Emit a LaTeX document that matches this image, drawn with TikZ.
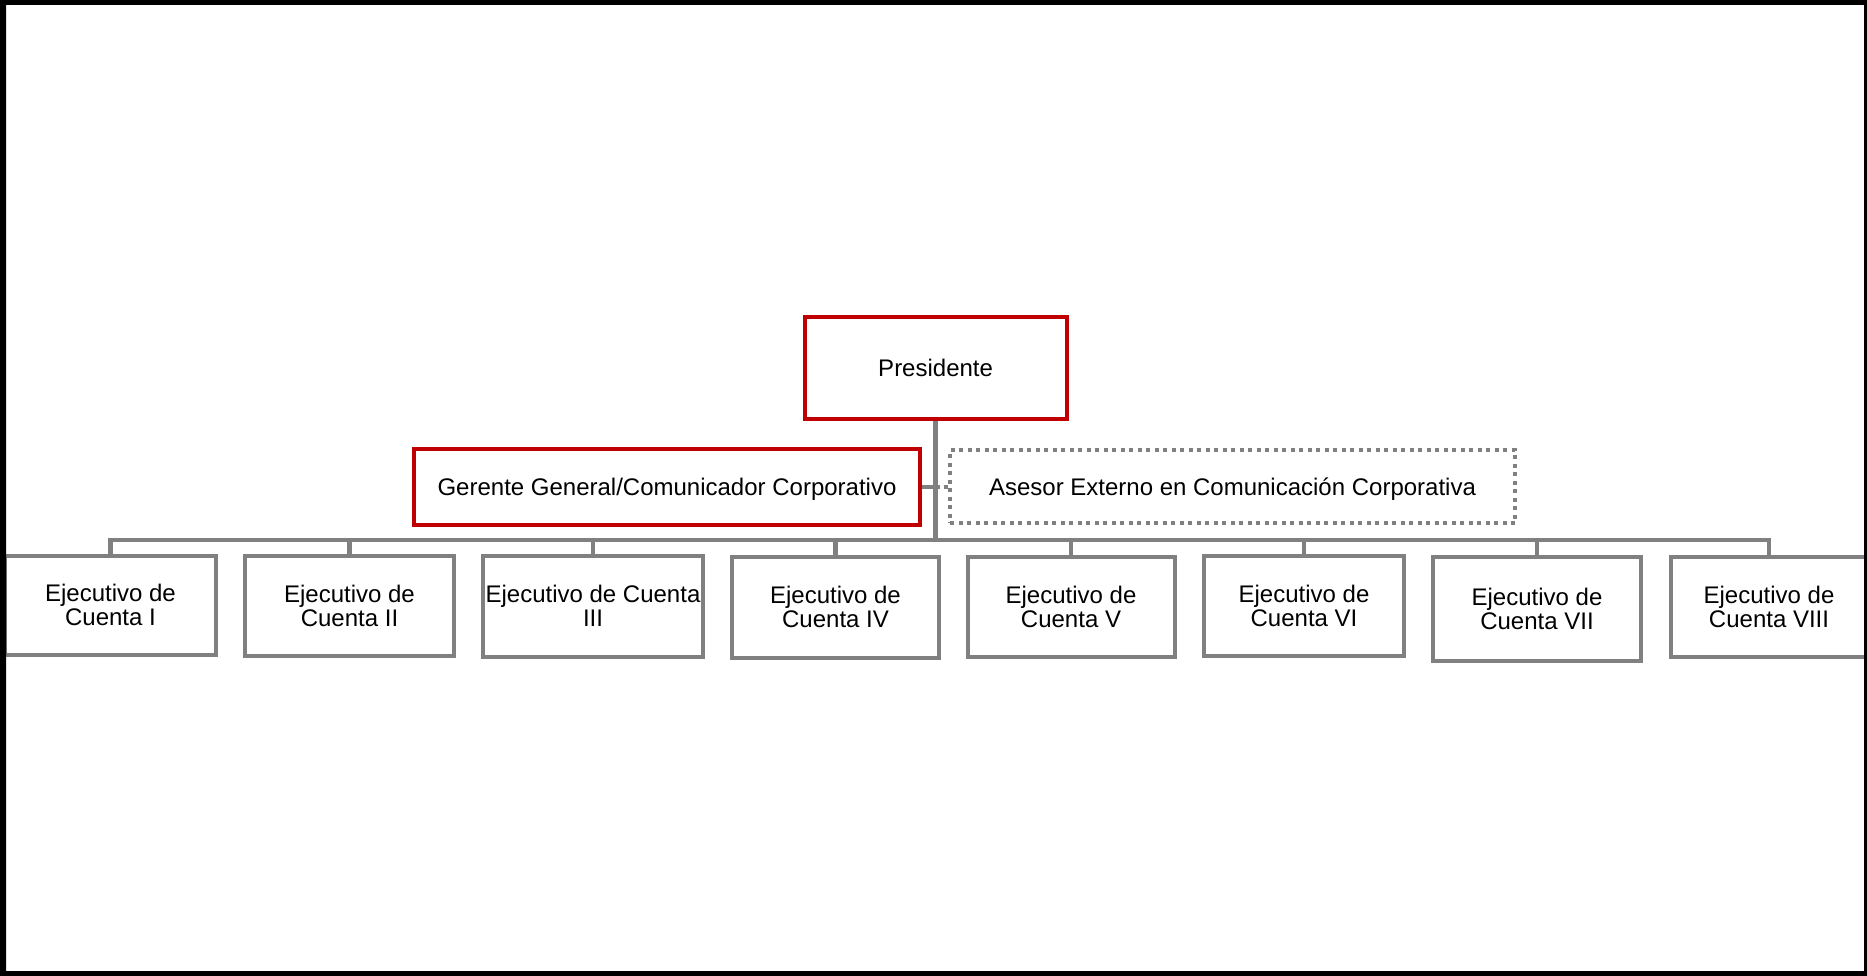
\documentclass[tikz,border=0pt]{standalone}
\usepackage{fontspec}
\setmainfont{Liberation Sans}
\definecolor{boxred}{HTML}{C00000}
\definecolor{boxgray}{HTML}{808080}
\begin{document}
\begin{tikzpicture}[x=1pt,y=-1pt,
  redbox/.style={draw=boxred, line width=4pt, fill=white, inner sep=0pt, align=center, text depth=0pt},
  graybox/.style={draw=boxgray, line width=4pt, fill=white, inner sep=0pt, align=center},
  dotbox/.style={draw=boxgray, line width=4pt, dash pattern=on 4pt off 4.5pt, fill=white, inner sep=0pt, align=center, text depth=0pt},
  conn/.style={draw=boxgray, line width=4.5pt},
  dotconn/.style={draw=boxgray, line width=4pt, dash pattern=on 4pt off 4.5pt},
  every node/.style={font=\fontsize{24}{24}\selectfont}]
\useasboundingbox (0,0) rectangle (1867,976);
\begin{scope}
\clip (0,0) rectangle (1867,976);
\fill[white] (0,0) rectangle (1867,976);
% top levels
\node[redbox, minimum width=262pt, minimum height=102pt] (pres) at (935.6,368) {Presidente};
\node[redbox, minimum width=506pt, minimum height=76pt] (ger) at (667,487) {Gerente General/Comunicador Corporativo};
\node[dotbox, minimum width=565pt, minimum height=73pt] (ase) at (1232.5,486.5) {Asesor Externo en Comunicación Corporativa};
% children
\node[graybox, minimum width=211pt, minimum height=99pt] (c1) at (110.5,605) {Ejecutivo de\\Cuenta I};
\node[graybox, minimum width=209pt, minimum height=100pt] (c2) at (349.5,605.5) {Ejecutivo de\\Cuenta II};
\node[graybox, minimum width=220pt, minimum height=101pt] (c3) at (593,606) {Ejecutivo de Cuenta\\III};
\node[graybox, minimum width=207pt, minimum height=101pt] (c4) at (835.5,607) {Ejecutivo de\\Cuenta IV};
\node[graybox, minimum width=207pt, minimum height=100pt] (c5) at (1071,606.5) {Ejecutivo de\\Cuenta V};
\node[graybox, minimum width=200pt, minimum height=100pt] (c6) at (1304,605.5) {Ejecutivo de\\Cuenta VI};
\node[graybox, minimum width=208pt, minimum height=104pt] (c7) at (1537,608.5) {Ejecutivo de\\Cuenta VII};
\node[graybox, minimum width=196pt, minimum height=100pt] (c8) at (1769,606.5) {Ejecutivo de\\Cuenta VIII};
% connectors
\coordinate (bus) at (935.6,540);
\draw[conn] (pres.south) -- (bus);
\draw[conn] (ger.east) -- (ger.east -| bus);
\draw[dotconn] (ase.west -| bus) -- (ase.west);
\foreach \c in {c1,c2,c3,c4,c5,c6,c7,c8}{
  \draw[conn] (bus) -| (\c.north);
}
\end{scope}
% outer frame
\fill[black, even odd rule] (0,0) rectangle (1867,976) (6,5) rectangle (1864,971);
\end{tikzpicture}
\end{document}
